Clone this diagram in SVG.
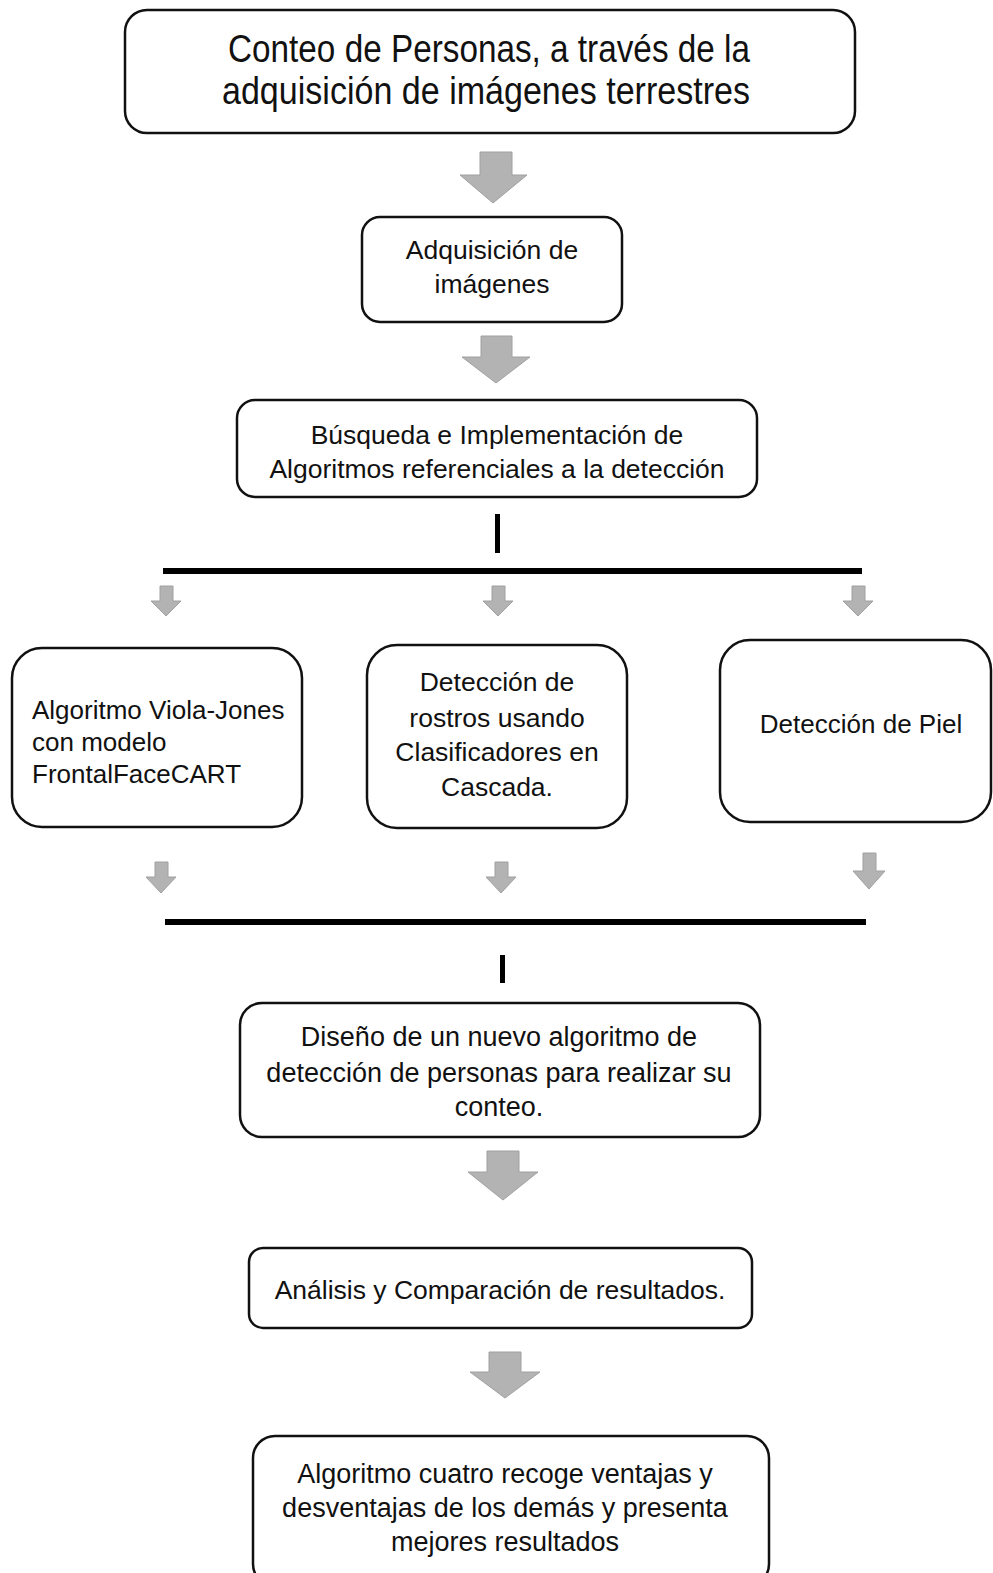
<svg xmlns="http://www.w3.org/2000/svg" width="993" height="1573" viewBox="0 0 993 1573">
<style>
.box{fill:#fff;stroke:#111;stroke-width:2.5}
.t{font-family:"Liberation Sans",Arial,sans-serif;fill:#111;font-size:26.5px}
.c{text-anchor:middle}
.big{font-size:38px}
.s26{font-size:26px}
.s27{font-size:27px}
.arr{fill:#b3b3b3;stroke:#a0a0a0;stroke-width:1}
.bar{fill:#000}
</style>
<rect width="993" height="1573" fill="#fff"/>
<g id="connectors">
<path class="arr" d="M480,152 H512 V175 H527 L493,203 L460,175 H480 Z"/>
<path class="arr" d="M481,336 H512 V357 H530 L496,383 L462,357 H481 Z"/>
<rect class="bar" x="495" y="514" width="5" height="39"/>
<rect class="bar" x="163" y="568" width="699" height="6"/>
<path class="arr" d="M160,586 H173 V601 H181 L166,616 L151,601 H160 Z"/>
<path class="arr" d="M492,586 H505 V601 H513 L498,616 L483,601 H492 Z"/>
<path class="arr" d="M852,586 H865 V601 H873 L858,616 L843,601 H852 Z"/>
<path class="arr" d="M155,862 H168 V877 H176 L161,893 L146,877 H155 Z"/>
<path class="arr" d="M495,862 H508 V877 H516 L501,893 L486,877 H495 Z"/>
<path class="arr" d="M863,853 H876 V871 H885 L869,889 L853,871 H863 Z"/>
<rect class="bar" x="165" y="919" width="701" height="6"/>
<rect class="bar" x="500" y="955" width="5" height="28"/>
<path class="arr" d="M487,1151 H519 V1172 H538 L503,1200 L468,1172 H487 Z"/>
<path class="arr" d="M489,1352 H521 V1372 H540 L505,1398 L470,1372 H489 Z"/>
</g>
<g id="n1">
<rect class="box" x="125" y="10" width="730" height="123" rx="22"/>
<text class="t c big" x="489" y="62" textLength="522" lengthAdjust="spacingAndGlyphs">Conteo de Personas, a través de la</text>
<text class="t c big" x="486" y="104" textLength="528" lengthAdjust="spacingAndGlyphs">adquisición de imágenes terrestres</text>
</g>
<g id="n2">
<rect class="box" x="362" y="217" width="260" height="105" rx="18"/>
<text class="t c" x="492" y="259">Adquisición de</text>
<text class="t c" x="492" y="293">imágenes</text>
</g>
<g id="n3">
<rect class="box" x="237" y="400" width="520" height="97" rx="18"/>
<text class="t c" x="497" y="444">Búsqueda e Implementación de</text>
<text class="t c" x="497" y="478">Algoritmos referenciales a la detección</text>
</g>
<g id="n4">
<rect class="box" x="12" y="648" width="290" height="179" rx="30"/>
<text class="t s26" x="32" y="719">Algoritmo Viola-Jones</text>
<text class="t s26" x="32" y="751">con modelo</text>
<text class="t s26" x="32" y="783">FrontalFaceCART</text>
</g>
<g id="n5">
<rect class="box" x="367" y="645" width="260" height="183" rx="30"/>
<text class="t c" x="497" y="691">Detección de</text>
<text class="t c" x="497" y="727">rostros usando</text>
<text class="t c" x="497" y="761">Clasificadores en</text>
<text class="t c" x="497" y="796">Cascada.</text>
</g>
<g id="n6">
<rect class="box" x="720" y="640" width="271" height="182" rx="30"/>
<text class="t c s26" x="861" y="733">Detección de Piel</text>
</g>
<g id="n7">
<rect class="box" x="240" y="1003" width="520" height="134" rx="22"/>
<text class="t c s27" x="499" y="1046">Diseño de un nuevo algoritmo de</text>
<text class="t c s27" x="499" y="1082">detección de personas para realizar su</text>
<text class="t c s27" x="499" y="1116">conteo.</text>
</g>
<g id="n8">
<rect class="box" x="249" y="1248" width="503" height="80" rx="14"/>
<text class="t c" x="500" y="1299">Análisis y Comparación de resultados.</text>
</g>
<g id="n9">
<rect class="box" x="253" y="1436" width="516" height="150" rx="22"/>
<text class="t c s27" x="505" y="1483">Algoritmo cuatro recoge ventajas y</text>
<text class="t c s27" x="505" y="1517">desventajas de los demás y presenta</text>
<text class="t c s27" x="505" y="1551">mejores resultados</text>
</g>
</svg>
